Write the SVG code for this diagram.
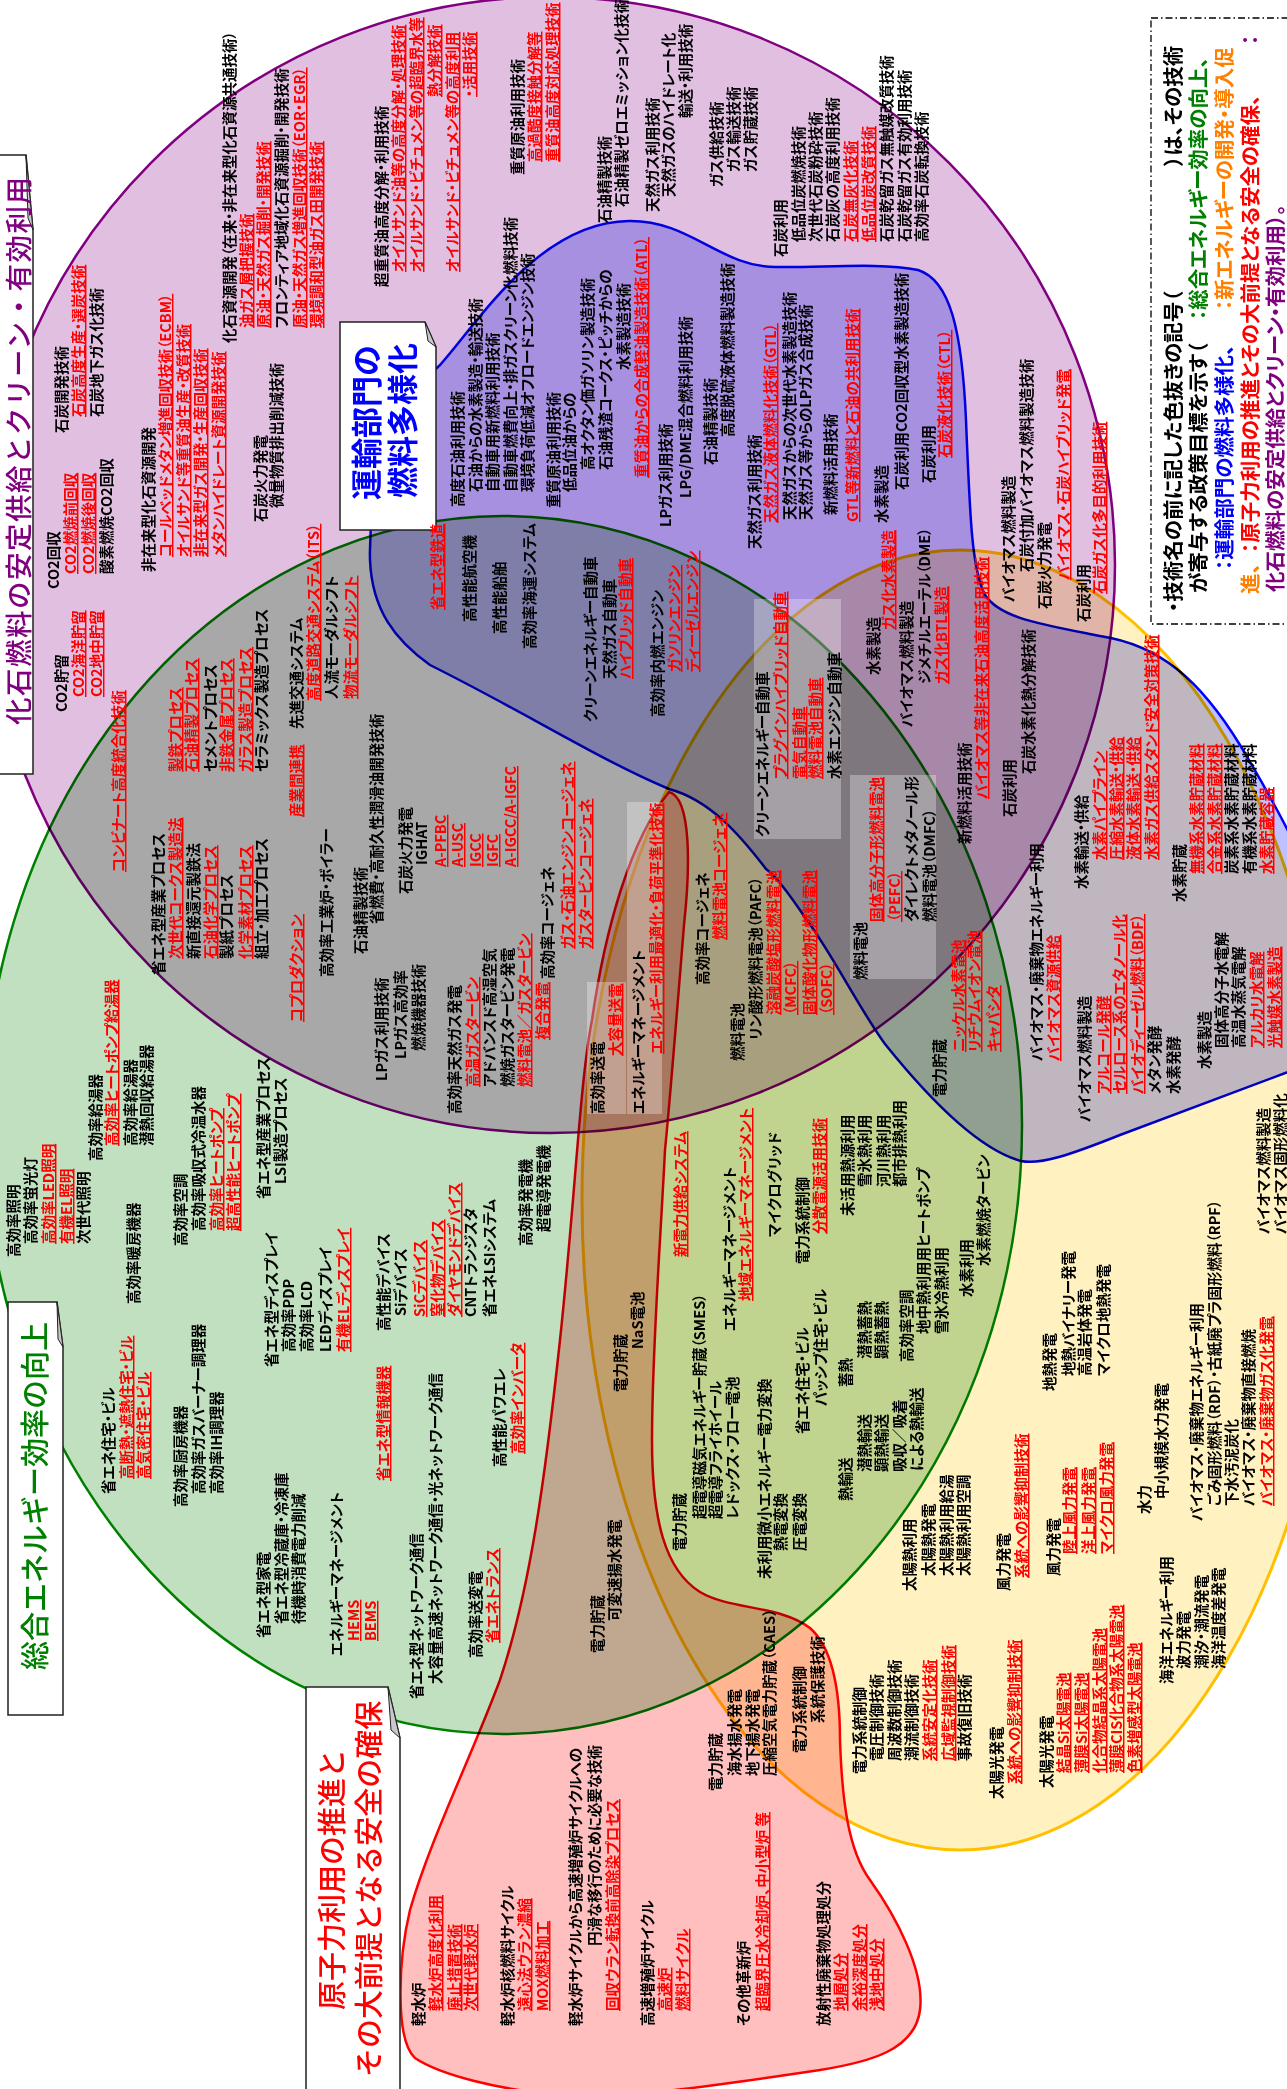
<svg xmlns="http://www.w3.org/2000/svg" width="1287" height="2089" viewBox="0 0 1287 2089">
<style>
.m{mix-blend-mode:multiply}
.t text{font-family:"Noto Sans CJK JP","Noto Sans CJK SC",sans-serif;font-size:14.5px;font-weight:bold;font-feature-settings:"palt" 1}
.k{fill:#000}
.r{fill:#f00;text-decoration:underline}
.box{fill:#fff;stroke:#222;stroke-width:1.5}
.fold{fill:#c8c8c8;stroke:#222;stroke-width:1}
.wr{fill:#fff;opacity:0.3}
.ttl{font-family:"Noto Sans CJK JP",sans-serif;font-weight:500;font-size:29px}
.ttb{font-family:"Noto Sans CJK JP",sans-serif;font-weight:bold;font-size:31px}
.lg{font-family:"Noto Sans CJK JP",sans-serif;font-size:20.5px;font-weight:bold;font-feature-settings:"palt" 1}
</style>
<rect width="1287" height="2089" fill="#fff"/>
<g id="regions">
<ellipse id="new-energy" class="m" cx="960" cy="1200" rx="378" ry="650" fill="#fff2c0" stroke="#ffc000" stroke-width="3"/>
<ellipse id="efficiency" class="m" cx="503" cy="1125" rx="519" ry="609" fill="#c0e0c0" stroke="#008000" stroke-width="2.5"/>
<ellipse id="fossil" class="m" cx="550" cy="565" rx="565" ry="568" fill="#e0bfe0" stroke="#800080" stroke-width="2.5"/>
<path id="transport" class="m" fill="#bfc0ff" stroke="#0000ff" stroke-width="2.5" d="M430,665 C395,640 372,610 370,560 C368,480 400,400 440,365 C480,320 540,222 629,221 C690,220 720,267 776,267 C820,268 880,262 918,270 C950,280 962,330 966,420 C970,520 972,570 985,595 C1000,618 1040,624 1100,636 C1160,645 1200,680 1240,745 C1270,795 1300,850 1320,900 L1320,1060 C1280,1075 1200,1105 1120,1135 C1070,1155 1040,1165 1021,1161 C980,1150 930,1100 885,1044 C860,1010 830,950 806,919 C790,895 775,875 766,869 C740,835 710,800 669,789 C600,760 530,715 430,665 Z"/>
<path id="nuclear" class="m" fill="#ffbfbf" stroke="#ff0000" stroke-width="2.5" d="M669,792 C692,798 690,870 684,925 C678,1000 670,1100 665,1150 C660,1250 652,1350 652,1440 C652,1520 665,1570 700,1592 C730,1610 780,1605 810,1628 C835,1650 840,1700 840,1740 C842,1800 848,1850 870,1880 C895,1915 925,1970 920,2010 C915,2050 870,2062 820,2070 C720,2085 620,2100 560,2095 C500,2090 440,2075 415,2058 C395,2040 398,1960 410,1910 C430,1840 470,1760 500,1680 C530,1590 545,1480 560,1340 C575,1200 580,1080 592,1020 C605,930 630,840 669,792 Z"/>
</g>
<g id="highlights">
<rect class="wr" x="754" y="599" width="87" height="240"/>
<rect class="wr" x="850" y="775" width="86" height="204"/>
<rect class="wr" x="627" y="802" width="35" height="312"/>
<rect class="wr" x="587" y="982" width="39" height="132"/>
</g>
<g id="title-boxes">
<path class="box" d="M-5,155 H26 L33,230 V774 H-5 Z"/><path class="fold" d="M26,155 L33,230 L28,218 Z"/>
<path class="box" d="M340,322 H425 L436,347 V530 H340 Z"/><path class="fold" d="M425,322 L436,347 L428,341 Z"/>
<path class="box" d="M8,1302 H57 L63,1347 V1715 H8 Z"/><path class="fold" d="M57,1302 L63,1347 L58,1339 Z"/>
<path class="box" d="M306,1687 H388 L400,1738 V2100 H306 Z"/><path class="fold" d="M388,1687 L400,1738 L391,1730 Z"/>
<rect x="1151" y="18" width="160" height="606" fill="none" stroke="#000" stroke-width="1.3" stroke-dasharray="7,3,1.5,3"/>
</g>
<g id="titles" transform="translate(0,2089) rotate(-90)">
<text class="ttl" x="1364" y="29" fill="#800080" style="font-size:27.5px;letter-spacing:1.5px">化石燃料の安定供給とクリーン・有効利用</text>
<text class="ttb" x="1589" y="378" fill="#0000ff">運輸部門の</text>
<text class="ttb" x="1591" y="414" fill="#0000ff">燃料多様化</text>
<text class="ttl" x="419" y="46" fill="#008000">総合エネルギー効率の向上</text>
<text class="ttl" x="79" y="343" fill="#ff0000">原子力利用の推進と</text>
<text class="ttl" x="12" y="380" fill="#ff0000">その大前提となる安全の確保</text>
</g>
<g id="legend" transform="translate(0,2089) rotate(-90)">
<text class="lg" y="1181"><tspan x="1477" fill="#000">・技術名の前に記した色抜きの記号（</tspan><tspan x="1923" fill="#000">）は、その技術</tspan></text>
<text class="lg" y="1206"><tspan x="1496" fill="#000">が寄与する政策目標を示す（</tspan><tspan x="1769" fill="#008000">：総合エネルギー効率の向上、</tspan></text>
<text class="lg" y="1232"><tspan x="1519" fill="#0000ff">：運輸部門の燃料多様化、</tspan><tspan x="1779" fill="#ff8000">：新エネルギーの開発・導入促</tspan></text>
<text class="lg" y="1258"><tspan x="1495" fill="#ff8000">進、</tspan><tspan x="1536" fill="#ff0000">：原子力利用の推進とその大前提となる安全の確保、</tspan><tspan x="2044" fill="#800080">：</tspan></text>
<text class="lg" y="1283"><tspan x="1497" fill="#800080">化石燃料の安定供給とクリーン・有効利用）。</tspan></text>
</g>
<g id="labels" class="t" transform="translate(0,2089) rotate(-90)">
<text x="1656" y="67" class="k">石炭開発技術</text>
<text x="1672" y="84" class="r">石炭高度生産・選炭技術</text>
<text x="1672" y="102" class="k">石炭地下ガス化技術</text>
<text x="1500" y="59" class="k">CO2回収</text>
<text x="1515" y="76" class="r">CO2燃焼前回収</text>
<text x="1515" y="94" class="r">CO2燃焼後回収</text>
<text x="1515" y="112" class="k">酸素燃焼CO2回収</text>
<text x="1377" y="67" class="k">CO2貯留</text>
<text x="1392" y="84" class="r">CO2海洋貯留</text>
<text x="1392" y="102" class="r">CO2地中貯留</text>
<text x="1517" y="154" class="k">非在来型化石資源開発</text>
<text x="1532" y="171" class="r">コールベッドメタン増進回収技術（ECBM）</text>
<text x="1532" y="189" class="r">オイルサンド等重質油生産・改質技術</text>
<text x="1532" y="206" class="r">非在来型ガス開発・生産回収技術</text>
<text x="1532" y="224" class="r">メタンハイドレート資源開発技術</text>
<text x="1567" y="266" class="k">石炭火力発電</text>
<text x="1581" y="282" class="k">微量物質排出削減技術</text>
<text x="1746" y="235" class="k">化石資源開発（在来・非在来型化石資源共通技術）</text>
<text x="1761" y="252" class="r">油ガス層把握技術</text>
<text x="1761" y="269" class="r">原油・天然ガス掘削・開発技術</text>
<text x="1761" y="287" class="k">フロンティア地域化石資源掘削・開発技術</text>
<text x="1761" y="305" class="r">原油・天然ガス増進回収技術（EOR・EGR）</text>
<text x="1761" y="322" class="r">環境調和型油ガス田開発技術</text>
<text x="1802" y="387" class="k">超重質油高度分解・利用技術</text>
<text x="1817" y="404" class="r">オイルサンド油等の高度分解・処理技術</text>
<text x="1817" y="422" class="r">オイルサンド・ビチュメン等の超臨界水等</text>
<text x="1992" y="440" class="r">熱分解技術</text>
<text x="1817" y="458" class="r">オイルサンド・ビチュメン等の高度利用</text>
<text x="1992" y="475" class="r">・活用技術</text>
<text x="1914" y="523" class="k">重質原油利用技術</text>
<text x="1927" y="540" class="r">高過酷度接触分解等</text>
<text x="1927" y="558" class="r">重質油高度対応処理技術</text>
<text x="1866" y="610" class="k">石油精製技術</text>
<text x="1882" y="627" class="k">石油精製ゼロエミッション化技術</text>
<text x="1877" y="658" class="k">天然ガス利用技術</text>
<text x="1892" y="674" class="k">天然ガスのハイドレート化</text>
<text x="1971" y="691" class="k">輸送・利用技術</text>
<text x="1902" y="722" class="k">ガス供給技術</text>
<text x="1917" y="739" class="k">ガス輸送技術</text>
<text x="1917" y="756" class="k">ガス貯蔵技術</text>
<text x="1832" y="786" class="k">石炭利用</text>
<text x="1847" y="804" class="k">低品位炭燃焼技術</text>
<text x="1847" y="821" class="k">次世代石炭粉砕技術</text>
<text x="1847" y="838" class="k">石炭灰の高度利用技術</text>
<text x="1847" y="856" class="r">石炭無灰化技術</text>
<text x="1847" y="874" class="r">低品位炭改質技術</text>
<text x="1847" y="892" class="k">石炭乾留ガス無触媒改質技術</text>
<text x="1847" y="910" class="k">石炭乾留ガス有効利用技術</text>
<text x="1847" y="927" class="k">高効率石炭転換技術</text>

<text x="1582" y="463" class="k">高度石油利用技術</text>
<text x="1597" y="481" class="k">石油からの水素製造・輸送技術</text>
<text x="1597" y="498" class="k">自動車用新燃料利用技術</text>
<text x="1597" y="516" class="k">自動車燃費向上・排ガスクリーン化燃料技術</text>
<text x="1597" y="533" class="k">環境負荷低減オフロードエンジン技術</text>
<text x="1581" y="559" class="k">重質原油利用技術</text>
<text x="1597" y="575" class="k">低品位油からの</text>
<text x="1619" y="593" class="k">高オクタン価ガソリン製造技術</text>
<text x="1619" y="611" class="k">石油残渣コークス・ピッチからの</text>
<text x="1719" y="629" class="k">水素製造技術</text>
<text x="1611" y="647" class="r">重質油からの合成軽油製造技術（ATL）</text>
<text x="1562" y="671" class="k">LPガス利用技術</text>
<text x="1591" y="691" class="k">LPG/DME混合燃料利用技術</text>
<text x="1624" y="716" class="k">石油精製技術</text>
<text x="1652" y="733" class="k">高度脱硫液体燃料製造技術</text>
<text x="1540" y="760" class="k">天然ガス利用技術</text>
<text x="1566" y="776" class="r">天然ガス液体燃料化技術（GTL）</text>
<text x="1569" y="795" class="k">天然ガスからの次世代水素製造技術</text>
<text x="1569" y="811" class="k">天然ガス等からのLPガス合成技術</text>
<text x="1574" y="836" class="k">新燃料活用技術</text>
<text x="1567" y="858" class="r">GTL等新燃料と石油の共利用技術</text>
<text x="1566" y="887" class="k">水素製造</text>
<text x="1599" y="907" class="k">石炭利用CO2回収型水素製造技術</text>
<text x="1606" y="934" class="k">石炭利用</text>
<text x="1631" y="950" class="r">石炭液化技術（CTL）</text>

<text x="1487" y="1014" class="k">バイオマス燃料製造</text>
<text x="1517" y="1032" class="k">石炭付加バイオマス燃料製造技術</text>
<text x="1480" y="1050" class="k">石炭火力発電</text>
<text x="1509" y="1069" class="r">バイオマス・石炭ハイブリッド発電</text>
<text x="1467" y="1089" class="k">石炭利用</text>
<text x="1495" y="1105" class="r">石炭ガス化多目的利用技術</text>

<text x="1414" y="879" class="k">水素製造</text>
<text x="1459" y="894" class="r">ガス化水素製造</text>
<text x="1362" y="912" class="k">バイオマス燃料製造</text>
<text x="1405" y="930" class="k">ジメチルエーテル（DME）</text>
<text x="1405" y="947" class="r">ガス化BTL製造</text>
<text x="1245" y="970" class="k">新燃料活用技術</text>
<text x="1290" y="987" class="r">バイオマス等非在来石油高度活用技術</text>
<text x="1272" y="1015" class="k">石炭利用</text>
<text x="1315" y="1034" class="k">石炭水素化熱分解技術</text>

<text x="1479" y="443" class="r">省エネ型鉄道</text>
<text x="1467" y="475" class="k">高性能航空機</text>
<text x="1455" y="505" class="k">高性能船舶</text>
<text x="1440" y="535" class="k">高効率海運システム</text>
<text x="1367" y="596" class="k">クリーンエネルギー自動車</text>
<text x="1410" y="615" class="k">天然ガス自動車</text>
<text x="1410" y="631" class="r">ハイブリッド自動車</text>
<text x="1372" y="663" class="k">高効率内燃エンジン</text>
<text x="1417" y="680" class="r">ガソリンエンジン</text>
<text x="1417" y="698" class="r">ディーゼルエンジン</text>
<text x="1252" y="768" class="k">クリーンエネルギー自動車</text>
<text x="1310" y="786" class="r">プラグインハイブリッド自動車</text>
<text x="1310" y="805" class="r">電気自動車</text>
<text x="1310" y="821" class="r">燃料電池自動車</text>
<text x="1310" y="840" class="k">水素エンジン自動車</text>

<text x="1217" y="124" class="r">コンビナート高度統合化技術</text>
<text x="1114" y="164" class="k">省エネ型産業プロセス</text>
<text x="1130" y="181" class="r">次世代コークス製造法</text>
<text x="1130" y="199" class="k">新直接還元製鉄法</text>
<text x="1130" y="216" class="r">石油化学プロセス</text>
<text x="1130" y="232" class="k">製紙プロセス</text>
<text x="1130" y="251" class="r">化学素材プロセス</text>
<text x="1130" y="267" class="k">組立・加工プロセス</text>
<text x="1317" y="181" class="r">製鉄プロセス</text>
<text x="1317" y="197" class="r">石油精製プロセス</text>
<text x="1317" y="216" class="k">セメントプロセス</text>
<text x="1317" y="232" class="r">非鉄金属プロセス</text>
<text x="1317" y="251" class="r">ガラス製造プロセス</text>
<text x="1317" y="267" class="k">セラミックス製造プロセス</text>
<text x="1360" y="302" class="k">先進交通システム</text>
<text x="1388" y="319" class="r">高度道路交通システム（ITS）</text>
<text x="1390" y="337" class="k">人流モーダルシフト</text>
<text x="1390" y="356" class="r">物流モーダルシフト</text>
<text x="1272" y="302" class="r">産業間連携</text>
<text x="1067" y="302" class="r">コプロダクション</text>
<text x="1112" y="332" class="k">高効率工業炉・ボイラー</text>
<text x="1135" y="366" class="k">石油精製技術</text>
<text x="1165" y="382" class="k">省燃費・高耐久性潤滑油開発技術</text>
<text x="1195" y="411" class="k">石炭火力発電</text>
<text x="1224" y="427" class="k">IGHAT</text>
<text x="1222" y="446" class="r">A-PFBC</text>
<text x="1222" y="463" class="r">A-USC</text>
<text x="1222" y="481" class="r">IGCC</text>
<text x="1222" y="498" class="r">IGFC</text>
<text x="1222" y="516" class="r">A-IGCC/A-IGFC</text>
<text x="1110" y="553" class="k">高効率コージェネ</text>
<text x="1140" y="573" class="r">ガス・石油エンジンコージェネ</text>
<text x="1140" y="591" class="r">ガスタービンコージェネ</text>
<text x="1008" y="387" class="k">LPガス利用技術</text>
<text x="1030" y="406" class="k">LPガス高効率</text>
<text x="1038" y="424" class="k">燃焼機器技術</text>
<text x="975" y="460" class="k">高効率天然ガス発電</text>
<text x="1002" y="478" class="r">高温ガスタービン</text>
<text x="1002" y="495" class="k">アドバンスド高湿空気</text>
<text x="1002" y="513" class="k">燃焼ガスタービン発電</text>
<text x="1002" y="530" class="r">燃料電池／ガスタービン</text>
<text x="1049" y="548" class="r">複合発電</text>
<text x="975" y="603" class="k">高効率送電</text>
<text x="1033" y="621" class="r">大容量送電</text>
<text x="975" y="644" class="k">エネルギーマネージメント</text>
<text x="1035" y="662" class="r">エネルギー利用最適化・負荷平準化技術</text>
<text x="1104" y="708" class="k">高効率コージェネ</text>
<text x="1149" y="725" class="r">燃料電池コージェネ</text>
<text x="1028" y="743" class="k">燃料電池</text>
<text x="1049" y="761" class="k">リン酸形燃料電池（PAFC）</text>
<text x="1074" y="779" class="r">溶融炭酸塩形燃料電池</text>
<text x="1074" y="796" class="r">（MCFC）</text>
<text x="1074" y="815" class="r">固体酸化物形燃料電池</text>
<text x="1074" y="832" class="r">（SOFC）</text>
<text x="1109" y="866" class="k">燃料電池</text>
<text x="1167" y="882" class="r">固体高分子形燃料電池</text>
<text x="1167" y="900" class="r">（PEFC）</text>
<text x="1167" y="917" class="k">ダイレクトメタノール形</text>
<text x="1167" y="935" class="k">燃料電池（DMFC）</text>
<text x="992" y="945" class="k">電力貯蔵</text>
<text x="1037" y="964" class="r">ニッケル水素電池</text>
<text x="1037" y="980" class="r">リチウムイオン電池</text>
<text x="1037" y="999" class="r">キャパシタ</text>

<text x="1028" y="1042" class="k">バイオマス・廃棄物エネルギー利用</text>
<text x="1028" y="1059" class="r">バイオマス資源供給</text>
<text x="1200" y="1087" class="k">水素輸送・供給</text>
<text x="1229" y="1105" class="r">水素パイプライン</text>
<text x="1229" y="1122" class="r">圧縮水素輸送・供給</text>
<text x="1229" y="1139" class="r">液体水素輸送・供給</text>
<text x="1229" y="1157" class="r">水素ガス供給スタンド安全対策技術</text>
<text x="1187" y="1185" class="k">水素貯蔵</text>
<text x="1215" y="1202" class="r">無機系水素貯蔵材料</text>
<text x="1215" y="1220" class="r">合金系水素貯蔵材料</text>
<text x="1215" y="1237" class="k">炭素系水素貯蔵材料</text>
<text x="1215" y="1255" class="k">有機系水素貯蔵材料</text>
<text x="1215" y="1272" class="r">水素貯蔵容器</text>
<text x="967" y="1090" class="k">バイオマス燃料製造</text>
<text x="995" y="1109" class="r">アルコール発酵</text>
<text x="995" y="1125" class="r">セルロース系のエタノール化</text>
<text x="995" y="1143" class="r">バイオディーゼル燃料（BDF）</text>
<text x="995" y="1160" class="k">メタン発酵</text>
<text x="995" y="1179" class="k">水素発酵</text>
<text x="1020" y="1210" class="k">水素製造</text>
<text x="1041" y="1227" class="k">固体高分子水電解</text>
<text x="1041" y="1244" class="k">高温水蒸気電解</text>
<text x="1041" y="1262" class="r">アルカリ水電解</text>
<text x="1041" y="1280" class="r">光触媒水素製造</text>

<text x="855" y="1269" class="k">バイオマス燃料製造</text>
<text x="855" y="1286" class="k">バイオマス固形燃料化</text>
<text x="698" y="1055" class="k">地熱発電</text>
<text x="713" y="1074" class="k">地熱バイナリー発電</text>
<text x="713" y="1090" class="k">高温岩体発電</text>
<text x="713" y="1109" class="k">マイクロ地熱発電</text>
<text x="575" y="1150" class="k">水力</text>
<text x="590" y="1167" class="k">中小規模水力発電</text>
<text x="568" y="1202" class="k">バイオマス・廃棄物エネルギー利用</text>
<text x="583" y="1220" class="k">ごみ固形燃料（RDF）・古紙廃プラ固形燃料（RPF）</text>
<text x="583" y="1237" class="k">下水汚泥炭化</text>
<text x="583" y="1254" class="k">バイオマス・廃棄物直接燃焼</text>
<text x="583" y="1272" class="r">バイオマス・廃棄物ガス化発電</text>
<text x="792" y="972" class="k">水素利用</text>
<text x="823" y="989" class="k">水素燃焼タービン</text>
<text x="727" y="912" class="k">高効率空調</text>
<text x="755" y="929" class="k">地中熱利用用ヒートポンプ</text>
<text x="755" y="947" class="k">雪氷冷熱利用</text>
<text x="873" y="853" class="k">未活用熱源利用</text>
<text x="902" y="870" class="k">雪氷熱利用</text>
<text x="902" y="889" class="k">河川熱利用</text>
<text x="902" y="905" class="k">都市排熱利用</text>
<text x="702" y="851" class="k">蓄熱</text>
<text x="730" y="870" class="k">潜熱蓄熱</text>
<text x="730" y="887" class="k">顕熱蓄熱</text>
<text x="588" y="851" class="k">熱輸送</text>
<text x="617" y="870" class="k">潜熱輸送</text>
<text x="617" y="887" class="k">顕熱輸送</text>
<text x="617" y="905" class="k">吸収／吸着</text>
<text x="618" y="922" class="k">による熱輸送</text>
<text x="498" y="915" class="k">太陽熱利用</text>
<text x="513" y="934" class="k">太陽熱発電</text>
<text x="513" y="952" class="k">太陽熱利用給湯</text>
<text x="513" y="969" class="k">太陽熱利用空調</text>
<text x="498" y="1009" class="k">風力発電</text>
<text x="511" y="1027" class="r">系統への影響抑制技術</text>
<text x="513" y="1059" class="k">風力発電</text>
<text x="535" y="1075" class="r">陸上風力発電</text>
<text x="535" y="1094" class="r">洋上風力発電</text>
<text x="535" y="1112" class="r">マイクロ風力発電</text>
<text x="405" y="1172" class="k">海洋エネルギー利用</text>
<text x="420" y="1189" class="k">波力発電</text>
<text x="420" y="1207" class="k">潮汐・潮流発電</text>
<text x="420" y="1224" class="k">海洋温度差発電</text>
<text x="315" y="865" class="k">電力系統制御</text>
<text x="328" y="882" class="k">電圧制御技術</text>
<text x="328" y="900" class="k">周波数制御技術</text>
<text x="328" y="917" class="k">潮流制御技術</text>
<text x="328" y="935" class="r">系統安定化技術</text>
<text x="328" y="954" class="r">広域監視制御技術</text>
<text x="328" y="970" class="k">事故復旧技術</text>
<text x="290" y="1002" class="k">太陽光発電</text>
<text x="305" y="1020" class="r">系統への影響抑制技術</text>
<text x="301" y="1052" class="k">太陽光発電</text>
<text x="316" y="1069" class="r">結晶Si太陽電池</text>
<text x="316" y="1087" class="r">薄膜Si太陽電池</text>
<text x="316" y="1105" class="r">化合物結晶系太陽電池</text>
<text x="316" y="1122" class="r">薄膜CIS化合物系太陽電池</text>
<text x="316" y="1140" class="r">色素増感型太陽電池</text>

<text x="697" y="626" class="k">電力貯蔵</text>
<text x="740" y="643" class="k">NaS電池</text>
<text x="832" y="686" class="r">新電力供給システム</text>
<text x="758" y="735" class="k">エネルギーマネージメント</text>
<text x="788" y="751" class="r">地域エネルギーマネージメント</text>
<text x="852" y="780" class="k">マイクログリッド</text>
<text x="825" y="808" class="k">電力系統制御</text>
<text x="855" y="825" class="r">分散電源活用技術</text>
<text x="538" y="685" class="k">電力貯蔵</text>
<text x="570" y="705" class="k">超電導磁気エネルギー貯蔵（SMES）</text>
<text x="570" y="721" class="k">超電導フライホイール</text>
<text x="570" y="738" class="k">レドックス・フロー電池</text>
<text x="510" y="770" class="k">未利用微小エネルギー電力変換</text>
<text x="538" y="786" class="k">熱電変換</text>
<text x="538" y="805" class="k">圧電変換</text>
<text x="655" y="808" class="k">省エネ住宅・ビル</text>
<text x="683" y="826" class="k">パッシブ住宅・ビル</text>
<text x="843" y="531" class="k">高効率発電機</text>
<text x="857" y="549" class="k">超電導発電機</text>
<text x="758" y="389" class="k">高性能デバイス</text>
<text x="773" y="406" class="k">Siデバイス</text>
<text x="772" y="425" class="r">SiCデバイス</text>
<text x="772" y="443" class="r">窒化物デバイス</text>
<text x="772" y="460" class="r">ダイヤモンドデバイス</text>
<text x="772" y="476" class="k">CNTトランジスタ</text>
<text x="772" y="495" class="k">省エネLSIシステム</text>
<text x="622" y="505" class="k">高性能パワエレ</text>
<text x="635" y="523" class="r">高効率インバータ</text>
<text x="390" y="422" class="k">省エネ型ネットワーク通信</text>
<text x="405" y="441" class="k">大容量高速ネットワーク通信・光ネットワーク通信</text>
<text x="431" y="481" class="k">高効率送変電</text>
<text x="446" y="498" class="r">省エネトランス</text>
<text x="608" y="389" class="r">省エネ型情報機器</text>
<text x="436" y="603" class="k">電力貯蔵</text>
<text x="468" y="620" class="k">可変速揚水発電</text>
<text x="298" y="721" class="k">電力貯蔵</text>
<text x="313" y="740" class="k">海水揚水発電</text>
<text x="313" y="758" class="k">地下揚水発電</text>
<text x="313" y="775" class="k">圧縮空気電力貯蔵（CAES）</text>
<text x="336" y="805" class="k">電力系統制御</text>
<text x="366" y="823" class="k">系統保護技術</text>

<text x="832" y="19" class="k">高効率照明</text>
<text x="845" y="36" class="k">高効率蛍光灯</text>
<text x="845" y="54" class="r">高効率LED照明</text>
<text x="845" y="72" class="r">有機EL照明</text>
<text x="845" y="89" class="k">次世代照明</text>
<text x="928" y="101" class="k">高効率給湯器</text>
<text x="943" y="117" class="r">高効率ヒートポンプ給湯器</text>
<text x="943" y="136" class="k">高効率給湯器</text>
<text x="943" y="152" class="k">潜熱回収給湯器</text>
<text x="785" y="139" class="k">高効率暖房機器</text>
<text x="843" y="186" class="k">高効率空調</text>
<text x="858" y="204" class="k">高効率吸収式冷温水器</text>
<text x="858" y="222" class="r">高効率ヒートポンプ</text>
<text x="858" y="239" class="r">超高性能ヒートポンプ</text>
<text x="890" y="269" class="k">省エネ型産業プロセス</text>
<text x="905" y="286" class="k">LSI製造プロセス</text>
<text x="722" y="277" class="k">省エネ型ディスプレイ</text>
<text x="737" y="294" class="k">高効率PDP</text>
<text x="737" y="312" class="k">高効率LCD</text>
<text x="737" y="331" class="k">LEDディスプレイ</text>
<text x="737" y="349" class="r">有機ELディスプレイ</text>
<text x="595" y="114" class="k">省エネ住宅・ビル</text>
<text x="610" y="132" class="r">高断熱・遮熱住宅・ビル</text>
<text x="610" y="149" class="r">高気密住宅・ビル</text>
<text x="582" y="186" class="k">高効率厨房機器</text>
<text x="595" y="204" class="k">高効率ガスバーナー調理器</text>
<text x="595" y="222" class="k">高効率IH調理器</text>
<text x="451" y="269" class="k">省エネ型家電</text>
<text x="465" y="287" class="k">省エネ型冷蔵庫・冷凍庫</text>
<text x="465" y="304" class="k">待機時消費電力削減</text>
<text x="433" y="342" class="k">エネルギーマネージメント</text>
<text x="448" y="359" class="r">HEMS</text>
<text x="448" y="376" class="r">BEMS</text>

<text x="63" y="424" class="k">軽水炉</text>
<text x="78" y="441" class="r">軽水炉高度化利用</text>
<text x="78" y="460" class="r">廃止措置技術</text>
<text x="78" y="476" class="r">次世代軽水炉</text>
<text x="63" y="513" class="k">軽水炉核燃料サイクル</text>
<text x="78" y="530" class="r">遠心法ウラン濃縮</text>
<text x="78" y="548" class="r">MOX燃料加工</text>
<text x="63" y="581" class="k">軽水炉サイクルから高速増殖炉サイクルへの</text>
<text x="143" y="600" class="k">円滑な移行のために必要な技術</text>
<text x="78" y="618" class="r">回収ウラン転換前高除染プロセス</text>
<text x="63" y="653" class="k">高速増殖炉サイクル</text>
<text x="78" y="670" class="r">高速炉</text>
<text x="78" y="688" class="r">燃料サイクル</text>
<text x="63" y="749" class="k">その他革新炉</text>
<text x="78" y="768" class="r">超臨界圧水冷却炉、中小型炉 等</text>
<text x="63" y="829" class="k">放射性廃棄物処理処分</text>
<text x="78" y="846" class="r">地層処分</text>
<text x="78" y="865" class="r">余裕深度処分</text>
<text x="78" y="882" class="r">浅地中処分</text>
</g>
</svg>
